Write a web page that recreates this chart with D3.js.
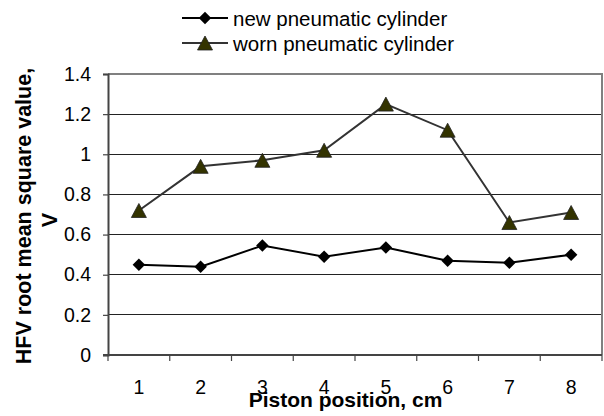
<!DOCTYPE html>
<html>
<head>
<meta charset="utf-8">
<script src="https://cdn.jsdelivr.net/npm/d3@7"></script>
<style>
  html, body { margin: 0; padding: 0; background: #fff; }
  svg { display: block; font-family: "Liberation Sans", Arial, sans-serif; }
</style>
</head>
<body>
<svg id="chart" width="604" height="416"></svg>
<script>
// Piston positions along the stroke (cm)
const positions = ["1", "2", "3", "4", "5", "6", "7", "8"];
// HFV RMS values, volts
const newCylinder  = [0.45, 0.44, 0.545, 0.49, 0.535, 0.47, 0.46, 0.50];
const wornCylinder = [0.72, 0.94, 0.97, 1.02, 1.25, 1.12, 0.66, 0.71];
const yTicks = [0, 0.2, 0.4, 0.6, 0.8, 1, 1.2, 1.4];
const seriesNames = ["new pneumatic cylinder", "worn pneumatic cylinder"];

const svg = d3.select("#chart");
const plot = { left: 108, right: 602, top: 74, bottom: 355 };

const x = d3.scaleBand().domain(positions).range([plot.left, plot.right]);
const y = d3.scaleLinear().domain([0, 1.4]).range([plot.bottom, plot.top]);

// Horizontal gridlines
svg.append("g")
  .selectAll("line")
  .data(yTicks.filter(t => t > 0 && t < 1.4))
  .join("line")
  .attr("x1", plot.left).attr("x2", plot.right)
  .attr("y1", d => y(d)).attr("y2", d => y(d))
  .attr("stroke", "#222").attr("stroke-width", 1)
  .attr("shape-rendering", "crispEdges");

// Plot area frame (top and right)
svg.append("path")
  .attr("d", `M${plot.left},${y(1.4)}H${plot.right}V${plot.bottom}`)
  .attr("fill", "none").attr("stroke", "#808080").attr("stroke-width", 2);

// Y axis
const yAxis = svg.append("g")
  .attr("transform", `translate(${plot.left},0)`)
  .call(d3.axisLeft(y).tickValues(yTicks).tickSize(5).tickPadding(12)
    .tickFormat(d => d3.format("")(d)));
yAxis.select(".domain").attr("stroke", "#444").attr("stroke-width", 2);
yAxis.selectAll(".tick line").attr("stroke", "#444").attr("stroke-width", 1.2);
yAxis.selectAll(".tick text")
  .attr("font-size", 19.5).attr("fill", "#000")
  .attr("font-family", "Liberation Sans, Arial, sans-serif");

// X axis (ticks on category boundaries)
const boundaries = positions.map(p => x(p)).concat([plot.right]);
svg.append("line")
  .attr("x1", plot.left - 5).attr("x2", plot.right)
  .attr("y1", plot.bottom).attr("y2", plot.bottom)
  .attr("stroke", "#444").attr("stroke-width", 2);
svg.append("g").selectAll("line")
  .data(boundaries).join("line")
  .attr("x1", d => d).attr("x2", d => d)
  .attr("y1", plot.bottom).attr("y2", plot.bottom + 6)
  .attr("stroke", "#444").attr("stroke-width", 1.2);
svg.append("g").selectAll("text")
  .data(positions).join("text")
  .attr("x", d => x(d) + x.bandwidth() / 2)
  .attr("y", 394)
  .attr("text-anchor", "middle")
  .attr("font-size", 19.5)
  .text(d => d);

// Axis titles
svg.append("text")
  .attr("x", 345.5).attr("y", 407)
  .attr("text-anchor", "middle")
  .attr("font-size", 21).attr("font-weight", "bold")
  .text("Piston position, cm");

svg.append("text")
  .attr("transform", "translate(30.5,216) rotate(-90)")
  .attr("text-anchor", "middle")
  .attr("font-size", 21.5).attr("font-weight", "bold")
  .text("HFV root mean square value,");
svg.append("text")
  .attr("transform", "translate(57,220) rotate(-90)")
  .attr("text-anchor", "middle")
  .attr("font-size", 21.5).attr("font-weight", "bold")
  .text("V");

// Markers
const diamond = d3.symbol().type(d3.symbolSquare).size(78);
function trianglePath(w, h) {
  return `M0,${-h / 2}L${w / 2},${h / 2}L${-w / 2},${h / 2}Z`;
}

const cx = (d, i) => x(positions[i]) + x.bandwidth() / 2;
const line = d3.line().x(cx).y(d => y(d));

// Worn cylinder series
svg.append("path")
  .datum(wornCylinder)
  .attr("d", line)
  .attr("fill", "none").attr("stroke", "#333").attr("stroke-width", 2);
svg.append("g").selectAll("path")
  .data(wornCylinder).join("path")
  .attr("transform", (d, i) => `translate(${cx(d, i)},${y(d)})`)
  .attr("d", trianglePath(15, 14))
  .attr("fill", "#333300").attr("stroke", "#222").attr("stroke-width", 0.8);

// New cylinder series
svg.append("path")
  .datum(newCylinder)
  .attr("d", line)
  .attr("fill", "none").attr("stroke", "#000").attr("stroke-width", 2);
svg.append("g").selectAll("path")
  .data(newCylinder).join("path")
  .attr("transform", (d, i) => `translate(${cx(d, i)},${y(d)}) rotate(45)`)
  .attr("d", diamond)
  .attr("fill", "#000");

// Legend
const legend = svg.append("g");
const rows = [
  { name: seriesNames[0], y: 18, stroke: "#000" },
  { name: seriesNames[1], y: 43, stroke: "#333" }
];
rows.forEach((r, i) => {
  legend.append("line")
    .attr("x1", 182).attr("x2", 228).attr("y1", r.y).attr("y2", r.y)
    .attr("stroke", r.stroke).attr("stroke-width", 2);
  if (i === 0) {
    legend.append("path")
      .attr("transform", `translate(205,${r.y}) rotate(45)`)
      .attr("d", diamond).attr("fill", "#000");
  } else {
    legend.append("path")
      .attr("transform", `translate(205,${r.y})`)
      .attr("d", trianglePath(15, 14))
      .attr("fill", "#333300").attr("stroke", "#222").attr("stroke-width", 0.8);
  }
  legend.append("text")
    .attr("x", 233).attr("y", r.y + 8)
    .attr("font-size", 20.5)
    .text(r.name);
});
</script>
</body>
</html>
